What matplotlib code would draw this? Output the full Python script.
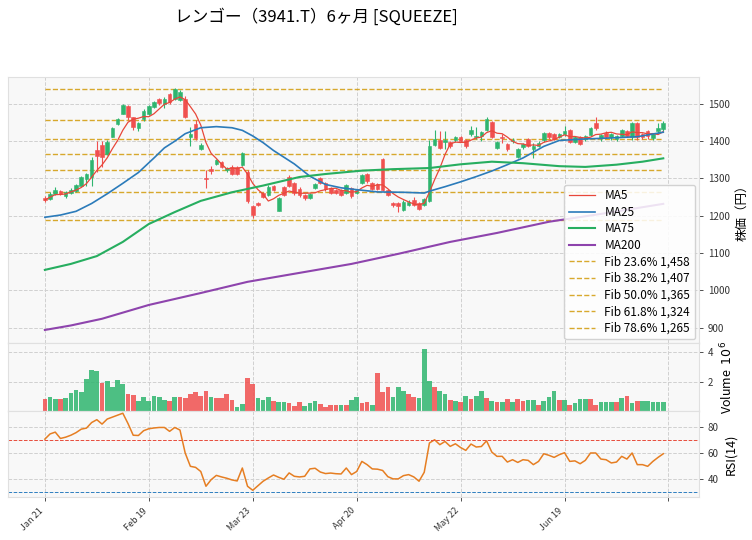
import matplotlib
matplotlib.use('Agg')
import matplotlib.pyplot as plt
import numpy as np
import pandas as pd

plt.rcParams['font.family'] = ['Noto Sans CJK JP', 'DejaVu Sans']

# ---------------- data ----------------
opens = [1249, 1245, 1258, 1266, 1252, 1262, 1266, 1281, 1298, 1305,
         1377, 1390, 1366, 1412, 1446, 1474, 1493, 1464, 1436, 1460,
         1473, 1491, 1513, 1500, 1527, 1513, 1511, 1514, 1412, 1446,
         1380, 1300, 1326, 1339, 1344, 1323, 1332, 1332, 1337, 1318,
         1227, 1234, 1261, 1257, 1279, 1214, 1277, 1304, 1287, 1272,
         1256, 1248, 1274, 1301, 1287, 1274, 1270, 1270, 1262, 1274,
         1262, 1287, 1312, 1287, 1286, 1352, 1270, 1234, 1234, 1215,
         1229, 1241, 1234, 1229, 1240, 1390, 1404, 1398, 1397, 1402,
         1412, 1402, 1418, 1411, 1415, 1429, 1452, 1382, 1410, 1393,
         1400, 1357, 1384, 1406, 1380, 1388, 1402, 1421, 1420, 1412,
         1418, 1430, 1398, 1412, 1405, 1417, 1448, 1408, 1423, 1410,
         1405, 1415, 1428, 1411, 1448, 1420, 1428, 1408, 1426, 1432]
highs = [1252, 1263, 1276, 1268, 1266, 1274, 1285, 1306, 1314, 1357,
         1400, 1400, 1404, 1438, 1463, 1500, 1496, 1466, 1452, 1485,
         1498, 1508, 1516, 1518, 1530, 1543, 1536, 1520, 1438, 1458,
         1395, 1323, 1333, 1353, 1347, 1330, 1336, 1334, 1371, 1322,
         1230, 1238, 1264, 1282, 1282, 1250, 1280, 1308, 1290, 1276,
         1259, 1262, 1289, 1305, 1290, 1277, 1273, 1273, 1286, 1277,
         1273, 1313, 1315, 1290, 1289, 1354, 1273, 1237, 1237, 1241,
         1241, 1250, 1237, 1248, 1402, 1429, 1426, 1428, 1400, 1415,
         1415, 1405, 1442, 1437, 1427, 1466, 1455, 1400, 1420, 1396,
         1408, 1382, 1396, 1409, 1395, 1400, 1425, 1424, 1423, 1423,
         1440, 1433, 1415, 1415, 1417, 1438, 1466, 1420, 1426, 1423,
         1416, 1433, 1431, 1451, 1451, 1423, 1431, 1421, 1450, 1453]
lows = [1238, 1242, 1255, 1255, 1248, 1259, 1263, 1279, 1279, 1280,
        1317, 1330, 1362, 1410, 1443, 1472, 1458, 1430, 1428, 1455,
        1470, 1488, 1498, 1490, 1500, 1510, 1508, 1462, 1388, 1402,
        1376, 1275, 1312, 1336, 1328, 1317, 1308, 1310, 1334, 1234,
        1194, 1226, 1247, 1253, 1266, 1212, 1254, 1278, 1255, 1250,
        1243, 1245, 1271, 1285, 1267, 1258, 1258, 1253, 1259, 1249,
        1258, 1284, 1289, 1268, 1268, 1266, 1253, 1224, 1210, 1212,
        1226, 1225, 1215, 1226, 1236, 1386, 1378, 1380, 1382, 1399,
        1397, 1382, 1415, 1405, 1400, 1426, 1408, 1379, 1395, 1375,
        1396, 1354, 1380, 1385, 1355, 1385, 1399, 1407, 1402, 1408,
        1415, 1395, 1394, 1389, 1401, 1414, 1431, 1400, 1408, 1402,
        1401, 1410, 1410, 1402, 1402, 1405, 1405, 1402, 1422, 1428]
closes = [1242, 1258, 1270, 1259, 1263, 1270, 1283, 1304, 1311, 1350,
          1360, 1357, 1399, 1434, 1460, 1497, 1464, 1438, 1449, 1482,
          1495, 1504, 1502, 1512, 1506, 1540, 1533, 1466, 1418, 1408,
          1391, 1299, 1320, 1350, 1332, 1327, 1312, 1312, 1369, 1240,
          1201, 1229, 1251, 1277, 1270, 1247, 1257, 1281, 1262, 1255,
          1247, 1259, 1286, 1288, 1271, 1262, 1262, 1257, 1283, 1253,
          1270, 1310, 1292, 1271, 1272, 1270, 1257, 1228, 1225, 1238,
          1238, 1229, 1218, 1245, 1386, 1406, 1382, 1402, 1386, 1412,
          1400, 1386, 1430, 1415, 1424, 1460, 1411, 1397, 1408, 1379,
          1404, 1379, 1393, 1388, 1386, 1396, 1422, 1411, 1406, 1420,
          1426, 1399, 1412, 1393, 1414, 1435, 1435, 1417, 1412, 1420,
          1413, 1430, 1413, 1448, 1411, 1412, 1413, 1418, 1435, 1450]

volume_m = [0.90, 1.03, 0.90, 0.90, 0.97, 1.31, 1.48, 1.35, 2.19, 2.77,
            2.70, 1.95, 2.05, 1.70, 2.15, 1.90, 1.20, 1.15, 0.75, 1.05,
            0.75, 1.10, 1.05, 0.80, 0.75, 1.05, 1.00, 0.95, 1.25, 1.35,
            1.10, 1.40, 1.05, 0.95, 0.95, 1.20, 0.80, 0.35, 0.55, 2.30,
            1.90, 0.95, 0.80, 1.00, 0.75, 0.70, 0.70, 0.60, 0.45, 0.70,
            0.45, 0.60, 0.75, 0.55, 0.35, 0.50, 0.50, 0.50, 0.50, 0.80,
            1.05, 0.65, 0.70, 0.50, 2.60, 1.35, 1.65, 1.05, 1.70, 1.40,
            1.20, 1.05, 0.95, 4.15, 2.05, 1.65, 1.40, 1.20, 0.85, 0.75,
            0.70, 1.10, 0.90, 1.10, 1.45, 0.95, 0.75, 0.70, 0.70, 0.90,
            0.70, 0.90, 0.75, 0.80, 0.80, 0.50, 0.75, 1.00, 1.40, 0.85,
            0.85, 0.50, 0.60, 0.90, 0.90, 0.90, 0.50, 0.70, 0.70, 0.70,
            0.70, 0.95, 1.10, 0.60, 0.75, 0.75, 0.75, 0.70, 0.70, 0.70]
volume_up = [0, 1, 1, 0, 1, 1, 1, 1, 1, 1,
             1, 0, 1, 1, 1, 1, 0, 0, 1, 1,
             1, 1, 1, 1, 0, 1, 0, 0, 0, 0,
             0, 0, 1, 0, 0, 0, 0, 1, 1, 0,
             0, 1, 1, 1, 0, 1, 1, 0, 0, 0,
             1, 1, 1, 0, 0, 0, 0, 1, 0, 1,
             1, 0, 0, 1, 0, 0, 0, 1, 1, 1,
             0, 0, 1, 1, 1, 0, 1, 1, 0, 1,
             0, 1, 0, 1, 1, 0, 1, 0, 1, 0,
             1, 0, 0, 1, 1, 0, 1, 1, 1, 0,
             1, 0, 1, 1, 1, 0, 0, 1, 1, 1,
             0, 1, 0, 1, 0, 1, 1, 1, 1, 1]

rsi14 = [71.0, 75.0, 76.4, 71.5, 72.5, 74.0, 76.0, 78.7, 79.5, 83.8,
         86.0, 82.6, 86.5, 88.0, 89.5, 91.0, 83.0, 74.0, 73.8, 77.5,
         79.0, 79.6, 80.0, 80.0, 77.0, 80.0, 78.0, 60.3, 50.0, 49.2,
         46.0, 34.6, 39.7, 43.0, 41.8, 40.8, 39.5, 38.7, 48.7, 34.6,
         31.5, 35.0, 38.5, 41.0, 43.3, 41.5, 40.0, 44.9, 42.3, 41.8,
         42.3, 48.0, 48.5, 45.6, 44.4, 44.8, 44.3, 44.1, 48.7, 43.6,
         46.0, 53.8, 51.3, 48.0, 47.8, 46.8, 42.0, 40.3, 40.3, 42.8,
         43.6, 41.8, 38.5, 45.4, 68.0, 70.5, 66.7, 69.2, 65.4, 67.4,
         64.5, 62.3, 67.2, 64.9, 65.3, 69.7, 61.0, 57.7, 57.7, 53.3,
         55.1, 53.0, 55.1, 54.6, 51.3, 53.8, 59.7, 58.5, 56.9, 59.0,
         60.5, 53.8, 54.2, 52.0, 54.6, 60.3, 60.3, 55.6, 55.1, 52.6,
         53.3, 57.7, 55.6, 60.3, 51.3, 51.3, 50.0, 53.8, 56.9, 59.7]

# moving averages (day index, value)
ma25_day = [0, 3, 6, 9, 12, 15, 18, 21, 23, 25, 27, 30, 33, 36, 38, 40,
            42, 44, 46, 48, 51, 54, 57, 60, 64, 69, 73, 74, 77, 80, 83,
            86, 89, 92, 96, 99, 104, 108, 114, 119]
ma25_val = [1196, 1202, 1212, 1233, 1259, 1287, 1316, 1355, 1382, 1400,
            1420, 1436, 1439, 1436, 1429, 1414, 1396, 1375, 1357, 1339,
            1306, 1284, 1275, 1270, 1264, 1263, 1261, 1266, 1278, 1291,
            1305, 1320, 1337, 1355, 1386, 1402, 1406, 1408, 1412, 1424]
ma75_day = [0, 5, 10, 15, 20, 25, 30, 36, 42, 49, 54, 61, 67, 74, 80, 86,
            92, 99, 104, 110, 115, 119]
ma75_val = [1055, 1071, 1092, 1130, 1178, 1210, 1240, 1263, 1281, 1304,
            1312, 1321, 1325, 1328, 1338, 1345, 1341, 1333, 1331, 1337,
            1345, 1354]
ma200_day = [0, 5, 11, 20, 30, 39, 49, 59, 68, 78, 87, 97, 107, 119]
ma200_val = [894, 906, 924, 961, 993, 1023, 1047, 1071, 1098, 1130, 1154,
             1184, 1205, 1232]

fib_levels = [1540.9, 1458, 1407, 1365, 1324, 1265, 1190]
fib_labels = [None, 'Fib 23.6% 1,458', 'Fib 38.2% 1,407', 'Fib 50.0% 1,365',
              'Fib 61.8% 1,324', 'Fib 78.6% 1,265', None]

tick_labels = ['Jan 21', 'Feb 19', 'Mar 23', 'Apr 20', 'May 22', 'Jun 19', '']
title = 'レンゴー（3941.T）6ヶ月 [SQUEEZE]'

# ---------------- plotting ----------------
UP = '#2fb56f'
DOWN = '#f0504f'
FACE = '#f8f8f8'
GRID = '#d0d0d0'

n = len(closes)
x = np.arange(n)
o = np.array(opens, float); c = np.array(closes, float)
h = np.array(highs, float); l = np.array(lows, float)
up = c >= o
cols = np.where(up, UP, DOWN)

fig = plt.figure(figsize=(7.52, 5.40), dpi=100)
gs = fig.add_gridspec(3, 1, height_ratios=[266, 68, 86], hspace=0,
                      left=0.0106, right=0.929, top=0.8574, bottom=0.0796)
ax = fig.add_subplot(gs[0])
axv = fig.add_subplot(gs[1], sharex=ax)
axr = fig.add_subplot(gs[2], sharex=ax)

for a in (ax, axv, axr):
    a.set_facecolor(FACE)
    a.grid(True, linestyle='--', color=GRID, linewidth=0.7)
    a.set_axisbelow(True)
    a.yaxis.tick_right()
    a.yaxis.set_label_position('right')
    for s in a.spines.values():
        s.set_color('#e0e0e0')
        s.set_linewidth(0.8)
    a.tick_params(axis='both', labelsize=7, colors='#333333', length=3,
                  width=0.6)

# fib lines
for lv, lab in zip(fib_levels, fib_labels):
    ax.hlines(lv, 0, n - 1, colors='#d4a017', linestyles='--', linewidth=1.0,
              alpha=0.9, zorder=1, label=lab if lab else '_nolegend_')

# candles
ax.vlines(x, l, h, colors=cols, linewidth=0.8, zorder=3)
body = np.abs(c - o)
body = np.where(body < 1.2, 1.2, body)
ax.bar(x, body, bottom=np.minimum(o, c), width=0.7, color=cols,
       edgecolor=cols, linewidth=0.4, zorder=4)

# moving averages
ma5 = pd.Series(closes, dtype=float).rolling(5, min_periods=1).mean()
ax.plot(x, ma5, color='#e8473a', linewidth=0.9, label='MA5', zorder=5)
ax.plot(ma25_day, ma25_val, color='#2b7bba', linewidth=1.2, label='MA25', zorder=5)
ax.plot(ma75_day, ma75_val, color='#27ae60', linewidth=1.5, label='MA75', zorder=5)
ax.plot(ma200_day, ma200_val, color='#8e44ad', linewidth=1.5, label='MA200', zorder=5)

handles, labels = ax.get_legend_handles_labels()
order = ['MA5', 'MA25', 'MA75', 'MA200'] + [f for f in fib_labels if f]
hd = dict(zip(labels, handles))
leg = ax.legend([hd[k] for k in order], order, loc='lower right', fontsize=8.5,
                framealpha=0.85, borderaxespad=0.3, edgecolor='#cccccc',
                labelspacing=0.3, handlelength=2.2)
leg.set_zorder(10)

ax.set_ylim(859, 1572)
ax.set_yticks([900, 1000, 1100, 1200, 1300, 1400, 1500])
ax.set_ylabel('株価（円）', fontsize=9)
plt.setp(ax.get_xticklabels(), visible=False)

# volume
vcols = [UP if u else DOWN for u in volume_up]
axv.bar(x, volume_m, width=0.9, color=vcols, alpha=0.85, linewidth=0)
axv.set_ylim(0.3 * min(volume_m), 1.1 * max(volume_m))
axv.set_yticks([2, 4])
axv.set_ylabel('Volume  $10^6$', fontsize=9)
plt.setp(axv.get_xticklabels(), visible=False)

# RSI
axr.plot(x, rsi14, color='#e67e22', linewidth=1.1)
axr.axhline(70, color='#e74c3c', linestyle='--', linewidth=0.7)
axr.axhline(30, color='#2e7fc0', linestyle='--', linewidth=0.7)
axr.set_ylim(26.3, 92.7)
axr.set_yticks([40, 60, 80])
axr.set_ylabel('RSI(14)', fontsize=9)

axr.set_xlim(-7.1, 125.8)
axr.set_xticks(np.arange(0, 121, 20))
axr.set_xticklabels(tick_labels, rotation=45, ha='right', fontsize=6.5)

fig.text(316 / 752, 1 - 17 / 540, title, ha='center', va='center', fontsize=12)

fig.savefig('out.png', dpi=100, facecolor='white')
